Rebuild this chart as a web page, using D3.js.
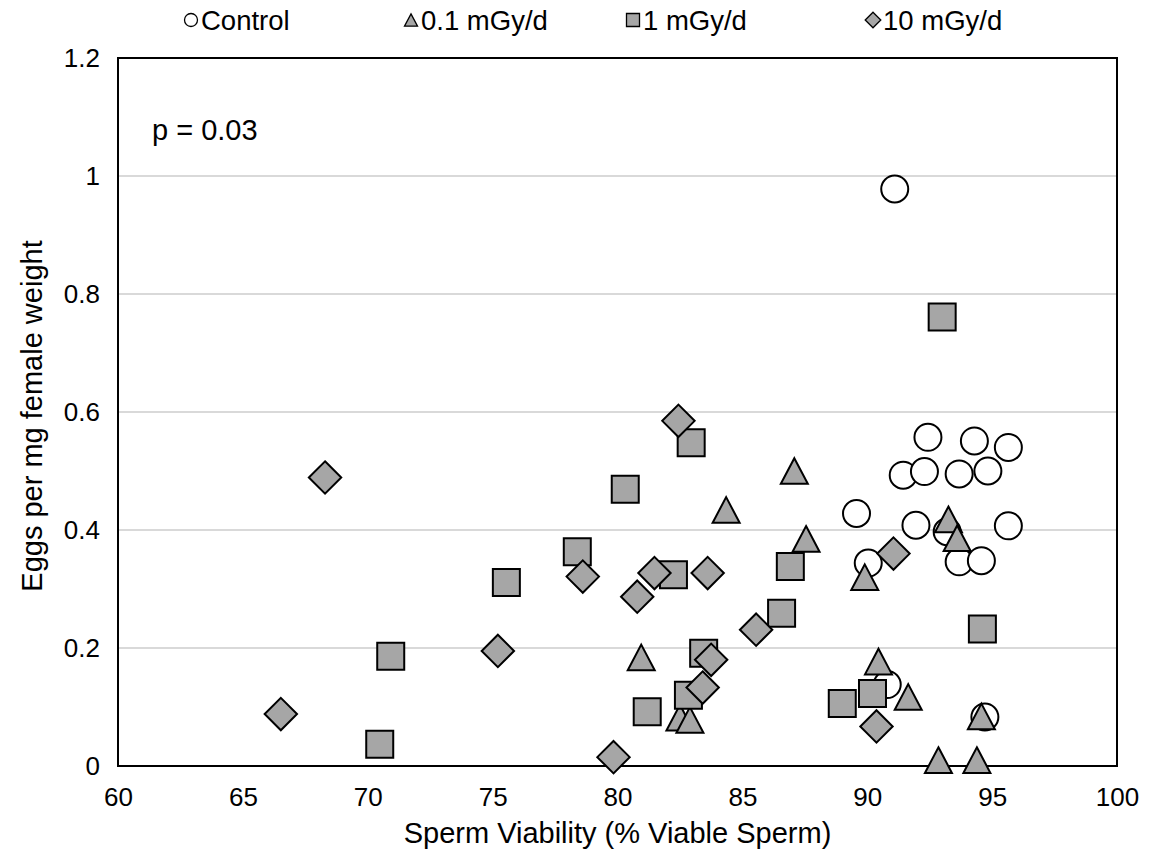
<!DOCTYPE html>
<html>
<head>
<meta charset="utf-8">
<script src="https://cdn.jsdelivr.net/npm/d3@7"></script>
<style>
  html, body { margin: 0; padding: 0; background: #fff; }
  svg { display: block; font-family: "Liberation Sans", Arial, sans-serif; }
</style>
</head>
<body>
<svg id="chart" width="1153" height="858"></svg>
<script>
// Sperm viability (%) vs eggs per mg female weight, by dose group
const controlX = [91.1, 92.43, 94.29, 95.65, 91.44, 92.29, 93.68, 94.83, 89.57, 91.95, 95.65, 93.2, 93.68, 94.57, 90.04, 90.8, 94.71];
const controlY = [0.978, 0.557, 0.551, 0.540, 0.493, 0.499, 0.495, 0.500, 0.428, 0.408, 0.407, 0.397, 0.346, 0.348, 0.344, 0.138, 0.083];

const low01X = [93.25, 93.6, 89.9, 90.45, 91.64, 94.57, 92.85, 94.39, 87.08, 84.35, 87.55, 80.95, 82.5, 82.9];
const low01Y = [0.418, 0.386, 0.320, 0.177, 0.117, 0.084, 0.010, 0.010, 0.500, 0.434, 0.385, 0.184, 0.082, 0.078];

const mid1X = [70.48, 70.92, 75.55, 78.39, 80.31, 82.95, 82.24, 86.92, 86.57, 83.45, 82.84, 81.19, 89.0, 90.21, 94.61, 93.0];
const mid1Y = [0.037, 0.186, 0.311, 0.363, 0.469, 0.548, 0.324, 0.338, 0.259, 0.191, 0.120, 0.092, 0.106, 0.123, 0.232, 0.761];

const high10X = [68.29, 66.52, 75.21, 78.61, 79.84, 80.79, 81.48, 82.44, 83.61, 83.41, 83.75, 85.55, 90.37, 91.05];
const high10Y = [0.489, 0.088, 0.195, 0.321, 0.015, 0.287, 0.327, 0.585, 0.327, 0.133, 0.180, 0.231, 0.067, 0.360];

const seriesNames = ["Control", "0.1 mGy/d", "1 mGy/d", "10 mGy/d"];
const xTicks = [60, 65, 70, 75, 80, 85, 90, 95, 100];
const yTicks = [0, 0.2, 0.4, 0.6, 0.8, 1, 1.2];
const pLabel = "p = 0.03";

const series = [
  { name: seriesNames[0], xs: controlX, ys: controlY, shape: "circle", fill: "#ffffff" },
  { name: seriesNames[1], xs: low01X, ys: low01Y, shape: "triangle", fill: "#a6a6a6" },
  { name: seriesNames[2], xs: mid1X, ys: mid1Y, shape: "square", fill: "#a6a6a6" },
  { name: seriesNames[3], xs: high10X, ys: high10Y, shape: "diamond", fill: "#a6a6a6" }
];

const svg = d3.select("#chart");
const plot = { left: 118, right: 1117, top: 58, bottom: 766 };
const tickFont = 26;
const titleFont = 29;
const legendFont = 27.5;

const x = d3.scaleLinear().domain([60, 100]).range([plot.left, plot.right]);
const y = d3.scaleLinear().domain([0, 1.2]).range([plot.bottom, plot.top]);

// horizontal gridlines
svg.append("g")
  .selectAll("line")
  .data(yTicks.filter(t => t > 0 && t < 1.2))
  .join("line")
  .attr("x1", plot.left).attr("x2", plot.right)
  .attr("y1", d => y(d)).attr("y2", d => y(d))
  .attr("stroke", "#d9d9d9").attr("stroke-width", 2);

// plot frame
svg.append("rect")
  .attr("x", plot.left).attr("y", plot.top)
  .attr("width", plot.right - plot.left).attr("height", plot.bottom - plot.top)
  .attr("fill", "none").attr("stroke", "#000").attr("stroke-width", 2);

// axes (labels only, frame drawn above)
const xAxis = svg.append("g")
  .attr("transform", `translate(0,${plot.bottom})`)
  .call(d3.axisBottom(x).tickValues(xTicks).tickSize(0).tickPadding(22).tickFormat(d3.format("d")));
xAxis.select(".domain").remove();
xAxis.selectAll("text").attr("font-size", tickFont).attr("fill", "#000").attr("font-family", "Liberation Sans, Arial, sans-serif");

const yAxis = svg.append("g")
  .attr("transform", `translate(${plot.left},0)`)
  .call(d3.axisLeft(y).tickValues(yTicks).tickSize(0).tickPadding(18).tickFormat(d => d === 0 || d === 1 ? d3.format("d")(d) : d3.format(".1f")(d)));
yAxis.select(".domain").remove();
yAxis.selectAll("text").attr("font-size", tickFont).attr("fill", "#000").attr("font-family", "Liberation Sans, Arial, sans-serif");

// axis titles
svg.append("text")
  .attr("x", (plot.left + plot.right) / 2).attr("y", 843)
  .attr("text-anchor", "middle").attr("font-size", titleFont)
  .text("Sperm Viability (% Viable Sperm)");

svg.append("text")
  .attr("transform", `translate(42,${(plot.top + plot.bottom) / 2 + 4}) rotate(-90)`)
  .attr("text-anchor", "middle").attr("font-size", titleFont)
  .text("Eggs per mg female weight");

// annotation
svg.append("text")
  .attr("x", 152).attr("y", 140)
  .attr("font-size", titleFont)
  .text(pLabel);

// marker path generator
function markerPath(shape, size) {
  const h = size / 2;
  switch (shape) {
    case "circle":
      return d3.arc()({ innerRadius: 0, outerRadius: h, startAngle: 0, endAngle: 2 * Math.PI });
    case "square":
      return `M${-h},${-h}H${h}V${h}H${-h}Z`;
    case "triangle": {
      const th = size * 0.95;
      return `M0,${-th / 2}L${h},${th / 2}L${-h},${th / 2}Z`;
    }
    case "diamond": {
      const d = size * 0.6;
      return `M0,${-d}L${d},0L0,${d}L${-d},0Z`;
    }
  }
}

// data markers
series.forEach(s => {
  const pts = s.xs.map((v, i) => [v, s.ys[i]]);
  svg.append("g")
    .selectAll("path")
    .data(pts)
    .join("path")
    .attr("d", markerPath(s.shape, 27))
    .attr("transform", d => `translate(${x(d[0])},${y(d[1])})`)
    .attr("fill", s.fill)
    .attr("stroke", "#000")
    .attr("stroke-width", 2)
    .attr("stroke-linejoin", "miter");
});

// legend
const legendX = [191, 411, 633, 873];
const legend = svg.append("g");
series.forEach((s, i) => {
  const g = legend.append("g").attr("transform", `translate(${legendX[i]},20)`);
  g.append("path")
    .attr("d", markerPath(s.shape, 13))
    .attr("fill", s.fill)
    .attr("stroke", "#000")
    .attr("stroke-width", 1.3);
  g.append("text")
    .attr("x", 10).attr("y", 10)
    .attr("font-size", legendFont)
    .text(s.name);
});
</script>
</body>
</html>
